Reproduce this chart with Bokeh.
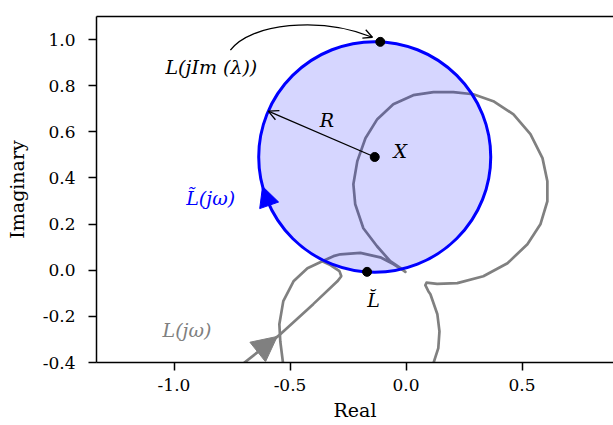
import numpy as np
from bokeh.plotting import figure
from bokeh.models import (Arrow, NormalHead, OpenHead, Label, LinearAxis,
                          FixedTicker, Range1d)
from bokeh.embed import file_html
from bokeh.resources import INLINE

# ---------------- data ----------------
x_ticks = [-1.0, -0.5, 0.0, 0.5]
y_ticks = [-0.4, -0.2, 0.0, 0.2, 0.4, 0.6, 0.8, 1.0]

# L(jw), incoming straight branch with its corner
l_in_re = [-0.721, -0.542, -0.400, -0.296, -0.279, -0.287, -0.326, -0.361]
l_in_im = [-0.420, -0.278, -0.147, -0.048, -0.026, -0.004, 0.022, 0.039]

# L(jw), left lobe -> small arc -> cusp -> big loop -> lower right branch
l_loop_re = [-0.528, -0.542, -0.546, -0.529, -0.485, -0.425, -0.361, -0.313, -0.283, -0.197,
             -0.111, -0.055, -0.012, -0.003, -0.025, -0.068, -0.125, -0.184, -0.219, -0.227,
             -0.210, -0.175, -0.124, -0.055, 0.031, 0.118, 0.204, 0.290, 0.376, 0.463,
             0.536, 0.588, 0.609, 0.609, 0.579, 0.523, 0.437, 0.333, 0.221, 0.134,
             0.088, 0.083, 0.096, 0.105, 0.135, 0.144, 0.139, 0.118, 0.114]
l_loop_im = [-0.420, -0.308, -0.234, -0.134, -0.048, 0.009, 0.039, 0.061, 0.069, 0.075,
             0.056, 0.027, 0.000, -0.007, 0.010, 0.039, 0.104, 0.182, 0.286, 0.373,
             0.473, 0.572, 0.655, 0.720, 0.759, 0.772, 0.772, 0.763, 0.733, 0.676,
             0.590, 0.486, 0.386, 0.299, 0.199, 0.113, 0.030, -0.026, -0.056, -0.059,
             -0.054, -0.065, -0.091, -0.104, -0.191, -0.265, -0.338, -0.403, -0.420]

# disc of L~(jw)
disc_center = (-0.135, 0.491)
disc_radius = 0.5

# marked points: L(j Im(lambda)), X, L-breve
pts_re = [-0.111, -0.135, -0.168]
pts_im = [0.990, 0.491, -0.007]

# angles (deg) for the radius arrow and the direction arrow on the disc
r_angle = 156.6
dir_from, dir_to = 203.5, 194.8

# incoming-branch direction arrow tip
gray_tip = (-0.555, -0.287)

# curved annotation arrow (cubic Bezier control points)
curve_pts = [(-0.757, 0.954), (-0.671, 1.071), (-0.369, 1.101), (-0.145, 1.010)]

# ---------------- figure ----------------
SERIF = "DejaVu Serif"
BLUE = "#0000ff"
GRAY = "#808080"

p = figure(frame_width=517, frame_height=346,
           x_range=Range1d(-1.334, 0.894), y_range=Range1d(-0.4, 1.1),
           output_backend="svg", toolbar_location=None,
           min_border_left=96, min_border_right=0,
           min_border_top=16, min_border_bottom=63)
p.outline_line_color = None
p.grid.visible = False
p.background_fill_color = "white"

for ax, ticks in ((p.xaxis[0], x_ticks), (p.yaxis[0], y_ticks)):
    ax.ticker = FixedTicker(ticks=ticks)
    ax.major_label_overrides = {t: f"{t:.1f}" for t in ticks}
    ax.major_label_text_font = SERIF
    ax.major_label_text_font_size = "17px"
    ax.major_label_text_color = "black"
    ax.major_tick_out = 8
    ax.major_tick_in = 0
    ax.minor_tick_out = 0
    ax.minor_tick_in = 0
    ax.major_tick_line_width = 1.5
    ax.axis_line_width = 1.5
    ax.axis_line_color = "black"
    ax.major_tick_line_color = "black"
    ax.axis_label_text_font = SERIF
    ax.axis_label_text_font_size = "19px"
    ax.axis_label_text_font_style = "normal"
    ax.axis_label_text_color = "black"

p.xaxis.major_label_standoff = 8
p.yaxis.major_label_standoff = 13
p.xaxis.axis_label = "Real"
p.xaxis.axis_label_standoff = 5
p.yaxis.axis_label = "Imaginary"
p.yaxis.axis_label_standoff = 12

top = LinearAxis(ticker=FixedTicker(ticks=[]), major_tick_out=0, major_tick_in=0,
                 minor_tick_out=0, minor_tick_in=0, major_label_text_font_size="0px",
                 axis_line_width=1.5, axis_line_color="black")
p.add_layout(top, "above")

# gray Nyquist curve
p.line(l_in_re, l_in_im, line_color=GRAY, line_width=2.7)
p.line(l_loop_re, l_loop_im, line_color=GRAY, line_width=2.7, line_join="round")

# blue disc
p.ellipse(x=[disc_center[0]], y=[disc_center[1]], width=2 * disc_radius, height=2 * disc_radius,
          fill_color=BLUE, fill_alpha=0.16, line_color=BLUE, line_width=3)

def on_disc(deg):
    a = np.deg2rad(deg)
    return (disc_center[0] + disc_radius * np.cos(a), disc_center[1] + disc_radius * np.sin(a))

# radius arrow
rx, ry = on_disc(r_angle)
p.add_layout(Arrow(x_start=disc_center[0], y_start=disc_center[1], x_end=rx, y_end=ry,
                   line_color="black", line_width=1.3,
                   end=OpenHead(size=10, line_width=1.3, line_color="black")))

# blue direction arrow on the disc
sx, sy = on_disc(dir_from)
ex, ey = on_disc(dir_to)
p.add_layout(Arrow(x_start=sx, y_start=sy, x_end=ex, y_end=ey, line_alpha=0,
                   end=NormalHead(size=20, fill_color=BLUE, line_color=BLUE, line_width=1)))

# gray direction arrow on the incoming branch
p.add_layout(Arrow(x_start=l_in_re[0], y_start=l_in_im[0], x_end=gray_tip[0], y_end=gray_tip[1],
                   line_alpha=0,
                   end=NormalHead(size=25, fill_color=GRAY, line_color=GRAY, line_width=1)))

# curved annotation arrow
(p0x, p0y), (c0x, c0y), (c1x, c1y), (p1x, p1y) = curve_pts
p.bezier(x0=[p0x], y0=[p0y], x1=[p1x], y1=[p1y], cx0=[c0x], cy0=[c0y], cx1=[c1x], cy1=[c1y],
         line_color="black", line_width=1.3)
p.add_layout(Arrow(x_start=c1x, y_start=c1y, x_end=p1x, y_end=p1y, line_alpha=0,
                   end=OpenHead(size=9, line_width=1.3, line_color="black")))

# marked points
p.scatter(pts_re, pts_im, size=9, color="black")

# labels
def lab(x, y, text, color="black", style="italic", size="19px"):
    p.add_layout(Label(x=x, y=y, text=text, text_align="center", text_baseline="middle",
                       text_font=SERIF, text_font_size=size, text_font_style=style,
                       text_color=color))

lab(-0.839, 0.880, "L(jIm (λ))")
lab(-0.341, 0.653, "R")
lab(-0.025, 0.519, "X")
lab(-0.140, -0.128, "L\u0306")
lab(-0.842, 0.314, "L\u0303(jω)", color=BLUE)
lab(-0.944, -0.257, "L(jω)", color=GRAY)

open("out.html", "w").write(file_html(p, INLINE))
